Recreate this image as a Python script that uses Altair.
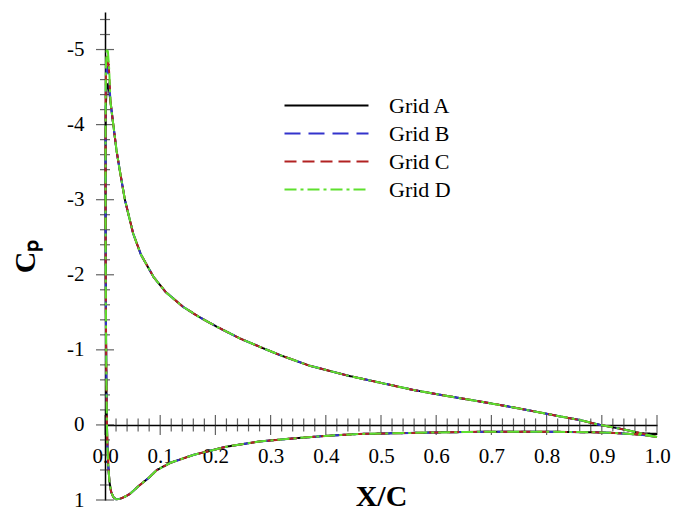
import altair as alt
import pandas as pd

grids = ["Grid A", "Grid B", "Grid C", "Grid D"]
colors = ["#000000", "#3333cc", "#b22222", "#5ee02e"]
dashes = [[1, 0], [16, 8], [12, 6], [12, 4, 3, 4]]
widths = [2.0, 2.0, 2.0, 2.8]

# trailing-edge Cp for each grid
te_cp = [0.12, 0.16, 0.16, 0.16]

# lower surface, from trailing edge towards the leading edge
lower_x = [0.97, 0.93, 0.90, 0.80, 0.70, 0.60, 0.50, 0.46, 0.40, 0.34, 0.28, 0.22,
           0.16, 0.12, 0.094, 0.08, 0.06, 0.045, 0.035, 0.027, 0.020, 0.015, 0.011,
           0.008, 0.006, 0.0045, 0.0035, 0.0025, 0.0018, 0.0013, 0.0010, 0.0010]
lower_cp = [0.13, 0.11, 0.10, 0.09, 0.09, 0.10, 0.115, 0.12, 0.146, 0.18, 0.22, 0.29,
            0.40, 0.50, 0.60, 0.70, 0.82, 0.92, 0.96, 0.985, 0.99, 0.96, 0.89,
            0.75, 0.55, 0.30, 0.0, -0.6, -1.3, -2.0, -2.8, -3.6]

# suction peak near the leading edge (differs per grid)
le_x = [0.0012, 0.0018, 0.003, 0.0048, 0.0075]
le_cp_a = [-4.0, -4.3, -4.48, -4.55, -4.45]
le_cp_b = [-4.2, -4.55, -4.74, -4.78, -4.6]
le_cp_c = [-4.3, -4.7, -4.88, -4.92, -4.7]
le_cp_d = [-4.4, -4.8, -4.98, -5.02, -4.75]
le_cps = [le_cp_a, le_cp_b, le_cp_c, le_cp_d]

# upper surface, from leading edge towards trailing edge
upper_x = [0.010, 0.015, 0.021, 0.027, 0.036, 0.051, 0.065, 0.088, 0.11, 0.142, 0.17,
           0.202, 0.245, 0.287, 0.317, 0.37, 0.438, 0.50, 0.559, 0.62, 0.673, 0.72,
           0.764, 0.82, 0.86, 0.897, 0.94, 0.97]
upper_cp = [-4.3, -4.0, -3.65, -3.38, -3.0, -2.55, -2.27, -1.97, -1.77, -1.57, -1.44,
            -1.31, -1.15, -1.02, -0.93, -0.79, -0.66, -0.56, -0.465, -0.385, -0.32, -0.26,
            -0.20, -0.12, -0.065, 0.0, 0.06, 0.11]

x_major = [0.0, 0.1, 0.2, 0.3, 0.4, 0.5, 0.6, 0.7, 0.8, 0.9, 1.0]
y_major = [-5, -4, -3, -2, -1, 0, 1]
x_minor = [round(i * 0.02, 2) for i in range(1, 50) if i % 5 != 0]
y_minor = [round(-5.4 + i * 0.2, 1) for i in range(0, 32) if (i - 2) % 5 != 0]

rows = []
for g, te, le_cp in zip(grids, te_cp, le_cps):
    xs = [1.0] + lower_x + le_x + upper_x + [1.0]
    cs = [te] + lower_cp + le_cp + upper_cp + [te]
    for i, (xv, cv) in enumerate(zip(xs, cs)):
        rows.append({"grid": g, "i": i, "x": xv, "cp": cv})
df = pd.DataFrame(rows)

FONT = "Liberation Serif"
xscale = alt.Scale(domain=[0, 1], nice=False, zero=False)
yscale = alt.Scale(domain=[-5.5, 1], reverse=True, nice=False, zero=False)

xaxis = alt.Axis(values=x_major, format=".1f", ticks=False, tickSize=0,
                 domain=True, domainColor="#000", domainWidth=1.5,
                 offset=-75, labelPadding=20, labelFont=FONT,
                 labelFontSize=21, labelColor="#000", labelFlush=False,
                 labelOverlap=False, grid=False, title="X/C",
                 titleFont=FONT, titleFontSize=30, titleFontWeight="bold",
                 titleColor="#000", titlePadding=15)
yaxis = alt.Axis(values=y_major, labelExpr="'' + datum.value", ticks=False,
                 tickSize=0, domain=True, domainColor="#000", domainWidth=1.5,
                 labelPadding=21, labelFont=FONT, labelFontSize=21,
                 labelColor="#000", labelFlush=False, labelOverlap=False,
                 grid=False, title="Cₚ", titleFont=FONT, titleFontSize=30,
                 titleFontWeight="bold", titleColor="#000", titlePadding=26)

lines = alt.Chart(df).mark_line(clip=False).encode(
    x=alt.X("x:Q", scale=xscale, axis=xaxis),
    y=alt.Y("cp:Q", scale=yscale, axis=yaxis),
    color=alt.Color("grid:N", scale=alt.Scale(domain=grids, range=colors),
                    legend=alt.Legend(title=None, orient="none", legendX=210,
                                      legendY=82, padding=0,
                                      symbolType="M-4,0L4,0", symbolSize=441,
                                      symbolStrokeWidth=2, labelFont=FONT,
                                      labelFontSize=22, labelColor="#000",
                                      labelOffset=51, rowPadding=5)),
    strokeDash=alt.StrokeDash("grid:N", scale=alt.Scale(domain=grids, range=dashes)),
    strokeWidth=alt.StrokeWidth("grid:N", scale=alt.Scale(domain=grids, range=widths),
                                legend=None),
    order="i:Q",
)

xmaj_df = pd.DataFrame({"v": x_major, "z": [0.0] * len(x_major)})
xmin_df = pd.DataFrame({"v": x_minor, "z": [0.0] * len(x_minor)})
ymaj_df = pd.DataFrame({"v": y_major, "z": [0.0] * len(y_major)})
ymin_df = pd.DataFrame({"v": y_minor, "z": [0.0] * len(y_minor)})

xmaj = alt.Chart(xmaj_df).mark_tick(
    orient="vertical", size=20, thickness=1.2, color="#222").encode(
    x=alt.X("v:Q", scale=xscale, axis=xaxis),
    y=alt.Y("z:Q", scale=yscale, axis=yaxis))
xmin = alt.Chart(xmin_df).mark_tick(
    orient="vertical", size=13, thickness=1.2, color="#222").encode(
    x=alt.X("v:Q", scale=xscale, axis=xaxis),
    y=alt.Y("z:Q", scale=yscale, axis=yaxis))
ymaj = alt.Chart(ymaj_df).mark_tick(
    orient="horizontal", size=18, thickness=1.2, color="#222").encode(
    y=alt.Y("v:Q", scale=yscale, axis=yaxis),
    x=alt.X("z:Q", scale=xscale, axis=xaxis))
ymin = alt.Chart(ymin_df).mark_tick(
    orient="horizontal", size=10, thickness=1.2, color="#222").encode(
    y=alt.Y("v:Q", scale=yscale, axis=yaxis),
    x=alt.X("z:Q", scale=xscale, axis=xaxis))

chart = alt.layer(xmin, xmaj, ymin, ymaj, lines).properties(
    width=552, height=488,
    background="white",
    autosize=alt.AutoSizeParams(type="none"),
    padding={"left": 97, "top": 4, "right": 21, "bottom": 12},
).configure_view(stroke=None)

chart.save("out.html", embed_options={"renderer": "svg", "actions": False})
